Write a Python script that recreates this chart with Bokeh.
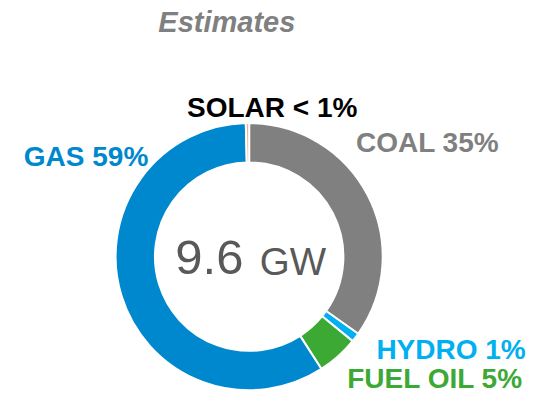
import numpy as np
from bokeh.plotting import figure
from bokeh.models import Range1d, ColumnDataSource
from bokeh.core.properties import value
from bokeh.embed import file_html
from bokeh.resources import INLINE

# ---- data ----
categories = ["COAL", "HYDRO", "FUEL OIL", "GAS", "SOLAR"]
shares = [34.8, 1.1, 5.0, 58.7, 0.4]
labels = ["COAL 35%", "HYDRO 1%", "FUEL OIL 5%", "GAS 59%", "SOLAR < 1%"]
total_capacity = "9.6"
total_unit = "GW"
subtitle = "Estimates"

# ---- styles ----
slice_colors = ["#808080", "#00B0F0", "#3DA935", "#0088CE", "#F4B183"]
label_colors = ["#808080", "#00B0F0", "#3DA935", "#0088CE", "#000000"]
# label anchor positions in reference pixel space (left x, baseline y)
label_pos = [(366, 158), (387, 374), (357, 404), (24, 173), (192, 122)]

W, H = 542, 395
REF_W, REF_H = 558, 411
cx, cy = 256, 266.5
r_in, r_out = 97, 137.5
FONT = "Liberation Sans"
LBL_FS, NUM_FS, UNIT_FS, SUB_FS = 28, 49, 38.5, 29
# bokeh's svg text sits lower than the requested alphabetic baseline; compensate
K = 0.375


def up(fs):
    return K * fs


p = figure(frame_width=W, frame_height=H, output_backend="svg", toolbar_location=None,
           title=None,
           x_range=Range1d(0, REF_W), y_range=Range1d(-REF_H, 0),
           min_border=0, background_fill_color="white", border_fill_color="white")
p.xaxis.visible = False
p.yaxis.visible = False
p.xgrid.visible = False
p.ygrid.visible = False
p.outline_line_color = None

frac = np.array(shares, dtype=float) / np.sum(shares)
cum = np.concatenate([[0.0], np.cumsum(frac)])
start = np.pi / 2 - 2 * np.pi * cum[:-1]
end = np.pi / 2 - 2 * np.pi * cum[1:]

src = ColumnDataSource(dict(start=start, end=end, color=slice_colors, cat=categories))
p.annular_wedge(x=cx, y=-cy, inner_radius=r_in, outer_radius=r_out,
                start_angle="start", end_angle="end", direction="clock",
                fill_color="color", line_color="white", line_width=2, source=src)

lsrc = ColumnDataSource(dict(x=[pt[0] for pt in label_pos],
                             y=[-pt[1] + up(LBL_FS) for pt in label_pos],
                             text=labels, color=label_colors))
p.text(x="x", y="y", text="text", text_color="color", source=lsrc,
       text_font=value(FONT), text_font_style="bold", text_font_size=f"{LBL_FS}px",
       text_align="left", text_baseline="alphabetic")

p.text(x=[180], y=[-286 + up(NUM_FS)], text=[total_capacity], text_color="#595959",
       text_font=value(FONT), text_font_size=f"{NUM_FS}px",
       text_align="left", text_baseline="alphabetic")
p.text(x=[267], y=[-286 + up(UNIT_FS)], text=[total_unit], text_color="#595959",
       text_font=value(FONT), text_font_size=f"{UNIT_FS}px",
       text_align="left", text_baseline="alphabetic")

p.text(x=[233], y=[-33 + up(SUB_FS)], text=[subtitle], text_color="#808080",
       text_font=value(FONT), text_font_style="bold italic", text_font_size=f"{SUB_FS}px",
       text_align="center", text_baseline="alphabetic")

open("out.html", "w").write(file_html(p, INLINE))
